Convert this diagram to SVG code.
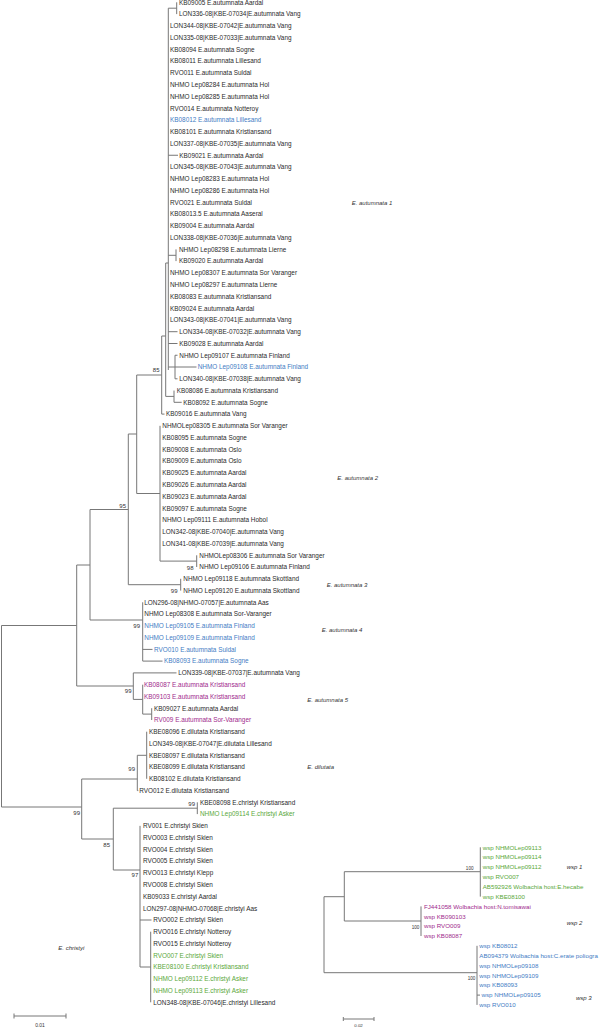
<svg xmlns="http://www.w3.org/2000/svg" width="603" height="1029" viewBox="0 0 603 1029">
<style>
text{font-family:"Liberation Sans",Arial,sans-serif;font-size:6.4px;fill:#2a2a2a}
.b{fill:#3f7cc4}
.p{fill:#a02a8c}
.g{fill:#5aa83a}
.bs{font-size:6px;text-anchor:end;fill:#333}
.bs2{font-size:4.6px;text-anchor:end;fill:#333}
.lab{font-size:6px;font-style:italic;fill:#333}
.w{font-size:6.2px}
.sc{font-size:5px;text-anchor:middle;fill:#333}
.sc2{font-size:4.4px;text-anchor:middle;fill:#333}
.br{fill:none;stroke:#777;stroke-width:1}
</style>
<rect width="603" height="1029" fill="#fff"/>
<g id="connectors" class="br">
<path d="M176.7 2.3V14.1M168.3 8.2H176.7M168.3 8.2V370M168.3 155.25H178M176 249.4V261.1M168.3 255.3H176M168.3 331.7H177.5M168.3 343.5H177.5M175 355.25V378.8M168.3 367H175M175 355.25H177.5M175 367H196.5M175 378.8H177.5M165.7 263V396.4M165.7 263H168.3M174 390.55V402.3M165.7 396.4H174M174 402.3H181.7"/>
<path d="M161.7 336V414.1M161.7 336H165.7M161.7 414.1H164.5M136.7 375H161.7M160 425.8V561.1M136.7 493.5H160M160 561.1H196.7M196.7 555.3V567M136.7 375V493.5M128.3 434H136.7M180.7 578.8V590.6M128.3 584.7H180.7M128.3 434V584.7M90 509.5H128.3"/>
<path d="M142.7 602.3V661.1M90 620H142.7M142.7 649.4H152.5M142.7 661.1H162.5M90 509.5V620M76.7 565H90M133.3 672.9V699.4M133.3 672.9H176.5M142.7 684.7V714.1M133.3 699.4H142.7M151.7 708.2V720M142.7 714.1H151.7M76.7 565V686M76.7 686H133.3M1.5 625.5V807M1.5 625.5H76.7M1.5 807H81.7"/>
<path d="M146.7 731.7V778.8M137.3 755.3H146.7M137.3 755.3V790.6M137.3 790.6H138.3M81.7 779H137.3M81.7 779V839M81.7 839H113.3M113.3 808.2V870M113.3 808.2H197.3M197.3 802.3V814.1M113.3 870H140M140 825.85V967M140 920H151.5M140 967H150.7M150.7 931.7V1002.3"/>
<path d="M324 896.7V972.7M324 896.7H344.3M344.3 871.7V921M344.3 871.7H480.3M480.3 847.3V896.6M344.3 921H421M421 906.4V936M324 972.7H477M477 945.8V1004.9M477 995.1H480"/>
<path d="M14 1016H66M14 1013.5V1018.5M66 1013.5V1018.5M343.3 1019H374M343.3 1017V1021M374 1017V1021"/>
</g>
<g id="clade-autumnata1">
<text x="179" y="4.6">KB09005 E.autumnata Aardal</text>
<text x="179" y="16.4">LON336-08|KBE-07034|E.autumnata Vang</text>
<text x="170" y="28.1">LON344-08|KBE-07042|E.autumnata Vang</text>
<text x="170" y="39.9">LON335-08|KBE-07033|E.autumnata Vang</text>
<text x="170" y="51.7">KB08094 E.autumnata Sogne</text>
<text x="170" y="63.4">KB08011 E.autumnata Lillesand</text>
<text x="170" y="75.2">RVO011 E.autumnata Suldal</text>
<text x="170" y="87">NHMO Lep08284 E.autumnata Hol</text>
<text x="170" y="98.7">NHMO Lep08285 E.autumnata Hol</text>
<text x="170" y="110.5">RVO014 E.autumnata Notteroy</text>
<text x="170" y="122.3" class="b">KB08012 E.autumnata Lillesand</text>
<text x="170" y="134">KB08101 E.autumnata Kristiansand</text>
<text x="170" y="145.8">LON337-08|KBE-07035|E.autumnata Vang</text>
<text x="179.3" y="157.6">KB09021 E.autumnata Aardal</text>
<text x="170" y="169.3">LON345-08|KBE-07043|E.autumnata Vang</text>
<text x="170" y="181.1">NHMO Lep08283 E.autumnata Hol</text>
<text x="170" y="192.8">NHMO Lep08286 E.autumnata Hol</text>
<text x="170" y="204.6">RVO021 E.autumnata Suldal</text>
<text x="170" y="216.4">KB08013.5 E.autumnata Aaseral</text>
<text x="170" y="228.1">KB09004 E.autumnata Aardal</text>
<text x="170" y="239.9">LON338-08|KBE-07036|E.autumnata Vang</text>
<text x="179" y="251.7">NHMO Lep08298 E.autumnata Lierne</text>
<text x="179" y="263.4">KB09020 E.autumnata Aardal</text>
<text x="170" y="275.2">NHMO Lep08307 E.autumnata Sor Varanger</text>
<text x="170" y="287">NHMO Lep08297 E.autumnata Lierne</text>
<text x="170" y="298.7">KB08083 E.autumnata Kristiansand</text>
<text x="170" y="310.5">KB09024 E.autumnata Aardal</text>
<text x="170" y="322.3">LON343-08|KBE-07041|E.autumnata Vang</text>
<text x="179.3" y="334">LON334-08|KBE-07032|E.autumnata Vang</text>
<text x="179.3" y="345.8">KB09028 E.autumnata Aardal</text>
<text x="179.3" y="357.6">NHMO Lep09107 E.autumnata Finland</text>
<text x="197.7" y="369.3" class="b">NHMO Lep09108 E.autumnata Finland</text>
<text x="179.3" y="381.1">LON340-08|KBE-07038|E.autumnata Vang</text>
<text x="176.7" y="392.9">KB08086 E.autumnata Kristiansand</text>
<text x="183.3" y="404.6">KB08092 E.autumnata Sogne</text>
<text x="166" y="416.4">KB09016 E.autumnata Vang</text>
</g>
<g id="clade-autumnata2">
<text x="162.3" y="428.1">NHMOLep08305 E.autumnata Sor Varanger</text>
<text x="162.3" y="439.9">KB08095 E.autumnata Sogne</text>
<text x="162.3" y="451.7">KB09008 E.autumnata Oslo</text>
<text x="162.3" y="463.4">KB09009 E.autumnata Oslo</text>
<text x="162.3" y="475.2">KB09025 E.autumnata Aardal</text>
<text x="162.3" y="487">KB09026 E.autumnata Aardal</text>
<text x="162.3" y="498.7">KB09023 E.autumnata Aardal</text>
<text x="162.3" y="510.5">KB09097 E.autumnata Sogne</text>
<text x="162.3" y="522.3">NHMO Lep09111 E.autumnata Hobol</text>
<text x="162.3" y="534">LON342-08|KBE-07040|E.autumnata Vang</text>
<text x="162.3" y="545.8">LON341-08|KBE-07039|E.autumnata Vang</text>
<text x="199.3" y="557.6">NHMOLep08306 E.autumnata Sor Varanger</text>
<text x="199.3" y="569.3">NHMO Lep09106 E.autumnata Finland</text>
</g>
<g id="clade-autumnata3">
<text x="183.3" y="581.1">NHMO Lep09118 E.autumnata Skottland</text>
<text x="183.3" y="592.9">NHMO Lep09120 E.autumnata Skottland</text>
</g>
<g id="clade-autumnata4">
<text x="144.3" y="604.6">LON296-08|NHMO-07057|E.autumnata Aas</text>
<text x="144.3" y="616.4">NHMO Lep08308 E.autumnata Sor-Varanger</text>
<text x="144.3" y="628.1" class="b">NHMO Lep09105 E.autumnata Finland</text>
<text x="144.3" y="639.9" class="b">NHMO Lep09109 E.autumnata Finland</text>
<text x="154" y="651.7" class="b">RVO010 E.autumnata Suldal</text>
<text x="164" y="663.4" class="b">KB08093 E.autumnata Sogne</text>
</g>
<g id="clade-autumnata5">
<text x="178.3" y="675.2">LON339-08|KBE-07037|E.autumnata Vang</text>
<text x="144" y="687" class="p">KB08087 E.autumnata Kristiansand</text>
<text x="144" y="698.7" class="p">KB09103 E.autumnata Kristiansand</text>
<text x="154" y="710.5">KB09027 E.autumnata Aardal</text>
<text x="154" y="722.3" class="p">RV009 E.autumnata Sor-Varanger</text>
</g>
<g id="clade-dilutata">
<text x="149" y="734">KBE08096 E.dilutata Kristiansand</text>
<text x="149" y="745.8">LON349-08|KBE-07047|E.dilutata Lillesand</text>
<text x="149" y="757.6">KBE08097 E.dilutata Kristiansand</text>
<text x="149" y="769.3">KBE08099 E.dilutata Kristiansand</text>
<text x="149" y="781.1">KB08102 E.dilutata Kristiansand</text>
<text x="139.3" y="792.9">RVO012 E.dilutata Kristiansand</text>
</g>
<g id="clade-christyi">
<text x="200" y="804.6">KBE08098 E.christyi Kristiansand</text>
<text x="200" y="816.4" class="g">NHMO Lep09114 E.christyi Asker</text>
<text x="143" y="828.2">RV001 E.christyi Skien</text>
<text x="143" y="839.9">RVO003 E.christyi Skien</text>
<text x="143" y="851.7">RVO004 E.christyi Skien</text>
<text x="143" y="863.4">RVO005 E.christyi Skien</text>
<text x="143" y="875.2">RVO013 E.christyi Klepp</text>
<text x="143" y="887">RVO008 E.christyi Skien</text>
<text x="143" y="898.7">KB09033 E.christyi Aardal</text>
<text x="143" y="910.5">LON297-08|NHMO-07068|E.christyi Aas</text>
<text x="153.3" y="922.3">RVO002 E.christyi Skien</text>
<text x="153.3" y="934">RVO016 E.christyi Notteroy</text>
<text x="153.3" y="945.8">RVO015 E.christyi Notteroy</text>
<text x="153.3" y="957.6" class="g">RVO007 E.christyi Skien</text>
<text x="153.3" y="969.3" class="g">KBE08100 E.christyi Kristiansand</text>
<text x="153.3" y="981.1" class="g">NHMO Lep09112 E.christyi Asker</text>
<text x="153.3" y="992.9" class="g">NHMO Lep09113 E.christyi Asker</text>
<text x="153.3" y="1004.6">LON348-08|KBE-07046|E.christyi Lillesand</text>
</g>
<g id="bootstrap">
<text class="bs" x="159.5" y="372">85</text>
<text class="bs" x="126" y="508">95</text>
<text class="bs" x="193.5" y="569.5">98</text>
<text class="bs" x="177.5" y="593">99</text>
<text class="bs" x="140" y="628">99</text>
<text class="bs" x="131.5" y="693">99</text>
<text class="bs" x="135" y="771">99</text>
<text class="bs" x="80" y="815">99</text>
<text class="bs" x="195" y="806">99</text>
<text class="bs" x="110" y="847">85</text>
<text class="bs" x="138.3" y="877">97</text>
<text class="bs2" x="473.5" y="869.5">100</text>
<text class="bs2" x="419.3" y="928.5">100</text>
<text class="bs2" x="475.3" y="979.5">100</text>
</g>
<g id="group-labels">
<text class="lab" x="351.7" y="205.3">E. autumnata 1</text>
<text class="lab" x="337.3" y="479.7">E. autumnata 2</text>
<text class="lab" x="326.7" y="587">E. autumnata 3</text>
<text class="lab" x="321.7" y="632">E. autumnata 4</text>
<text class="lab" x="307.3" y="702">E. autumnata 5</text>
<text class="lab" x="307.3" y="769.3">E. dilutata</text>
<text class="lab" x="58.3" y="950.3">E. christyi</text>
<text class="lab" x="566.7" y="869.3">wsp 1</text>
<text class="lab" x="566.7" y="925.3">wsp 2</text>
<text class="lab" x="576" y="1000.3">wsp 3</text>
</g>
<g id="wsp1">
<text class="w g" x="482.7" y="849.5">wsp NHMOLep09113</text>
<text class="w g" x="482.7" y="859.4">wsp NHMOLep09114</text>
<text class="w g" x="482.7" y="869.2">wsp NHMOLep09112</text>
<text class="w g" x="482.7" y="879.1">wsp RVO007</text>
<text class="w g" x="482.7" y="888.9">AB592926 Wolbachia host:E.hecabe</text>
<text class="w g" x="482.7" y="898.8">wsp KBE08100</text>
</g>
<g id="wsp2">
<text class="w p" x="424" y="908.6">FJ441058 Wolbachia host:N.tomisawai</text>
<text class="w p" x="424" y="918.5">wsp KB090103</text>
<text class="w p" x="424" y="928.3">wsp RVO009</text>
<text class="w p" x="424" y="938.2">wsp KB08087</text>
</g>
<g id="wsp3">
<text class="w b" x="479.3" y="948">wsp KB08012</text>
<text class="w b" x="479.3" y="957.9">AB094379 Wolbachia host:C.erate poliogra</text>
<text class="w b" x="479.3" y="967.7">wsp NHMOLep09108</text>
<text class="w b" x="479.3" y="977.6">wsp NHMOLep09109</text>
<text class="w b" x="479.3" y="987.4">wsp KB08093</text>
<text class="w b" x="481.5" y="997.3">wsp NHMOLep09105</text>
<text class="w b" x="479.3" y="1007.1">wsp RVO010</text>
</g>
<g id="scales">
<text class="sc" x="40" y="1026.5">0.01</text>
<text class="sc2" x="358.5" y="1026.5">0.02</text>
</g>
</svg>
